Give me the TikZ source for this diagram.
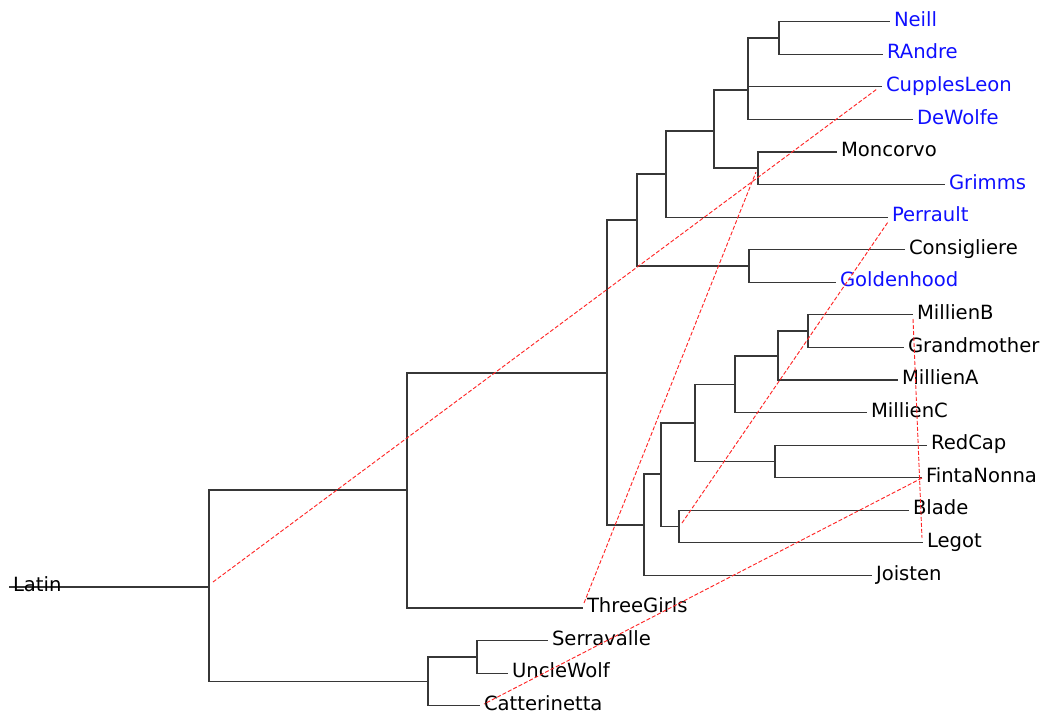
\documentclass[tikz,border=0pt]{standalone}
\usepackage{fontspec}
\setmainfont{DejaVu Sans}
\definecolor{lblue}{RGB}{15,15,255}
\definecolor{treegray}{RGB}{55,55,55}
\begin{document}
\begin{tikzpicture}[x=0.75pt,y=-0.75pt,
  tree/.style={draw=treegray,line width=0.8pt},
  lbl/.style={anchor=base west,inner sep=0pt,xshift=2.8pt,yshift=-3.5pt,font=\fontsize{14.7}{17}\selectfont},
  blu/.style={lbl,text=lblue},
  link/.style={draw=red!85,line width=0.7pt,dash pattern=on 3pt off 1.5pt}]
\useasboundingbox (0,0) rectangle (1050,718);
% leaf ends
\coordinate (nNeill) at (890,21.7);
\coordinate (nRAndre) at (883,54.3);
\coordinate (nCupplesLeon) at (882,86.8);
\coordinate (nDeWolfe) at (913,119.4);
\coordinate (nMoncorvo) at (837,152);
\coordinate (nGrimms) at (945,184.5);
\coordinate (nPerrault) at (888,217.1);
\coordinate (nConsigliere) at (905,249.7);
\coordinate (nGoldenhood) at (836,282.2);
\coordinate (nMillienB) at (913,314.8);
\coordinate (nGrandmother) at (904,347.4);
\coordinate (nMillienA) at (898,380);
\coordinate (nMillienC) at (867,412.5);
\coordinate (nRedCap) at (927,445.1);
\coordinate (nFintaNonna) at (922,477.7);
\coordinate (nBlade) at (909,510.2);
\coordinate (nLegot) at (923,542.8);
\coordinate (nJoisten) at (872,575.4);
\coordinate (nThreeGirls) at (583,608);
\coordinate (nSerravalle) at (548,640.5);
\coordinate (nUncleWolf) at (508,673.1);
\coordinate (nCatterinetta) at (480,705.7);
\coordinate (nLatin) at (9,587);
% internal nodes
\coordinate (A) at (779,38);
\coordinate (B) at (748,90);
\coordinate (C) at (758,168);
\coordinate (D) at (714,131);
\coordinate (E) at (666,174);
\coordinate (F) at (749,266);
\coordinate (G) at (637,220);
\coordinate (H) at (808,331);
\coordinate (I) at (778,356);
\coordinate (J) at (735,384.7);
\coordinate (K) at (775,461.5);
\coordinate (L) at (695,423);
\coordinate (M) at (679,526.5);
\coordinate (N) at (661,474);
\coordinate (O) at (644,525);
\coordinate (P) at (607,373);
\coordinate (Q) at (407,490);
\coordinate (R) at (477,657);
\coordinate (S) at (428,681.5);
\coordinate (root) at (209,587);
% tree
\draw[tree] (A) |- (nNeill) (A) |- (nRAndre);
\draw[tree] (B) |- (A) (B) |- (nCupplesLeon) (B) |- (nDeWolfe);
\draw[tree] (C) |- (nMoncorvo) (C) |- (nGrimms);
\draw[tree] (D) |- (B) (D) |- (C);
\draw[tree] (E) |- (D) (E) |- (nPerrault);
\draw[tree] (F) |- (nConsigliere) (F) |- (nGoldenhood);
\draw[tree] (G) |- (E) (G) |- (F);
\draw[tree] (H) |- (nMillienB) (H) |- (nGrandmother);
\draw[tree] (I) |- (H) (I) |- (nMillienA);
\draw[tree] (J) |- (I) (J) |- (nMillienC);
\draw[tree] (K) |- (nRedCap) (K) |- (nFintaNonna);
\draw[tree] (L) |- (J) (L) |- (K);
\draw[tree] (M) |- (nBlade) (M) |- (nLegot);
\draw[tree] (N) |- (L) (N) |- (M);
\draw[tree] (O) |- (N) (O) |- (nJoisten);
\draw[tree] (P) |- (G) (P) |- (O);
\draw[tree] (Q) |- (P) (Q) |- (nThreeGirls);
\draw[tree] (R) |- (nSerravalle) (R) |- (nUncleWolf);
\draw[tree] (S) |- (R) (S) |- (nCatterinetta);
\draw[tree] (root) |- (Q) (root) |- (S);
\draw[tree] (root) -- (nLatin);
% labels
\node[blu] (Neill) at (nNeill) {Neill};
\node[blu] (RAndre) at (nRAndre) {RAndre};
\node[blu] (CupplesLeon) at (nCupplesLeon) {CupplesLeon};
\node[blu] (DeWolfe) at (nDeWolfe) {DeWolfe};
\node[lbl] (Moncorvo) at (nMoncorvo) {Moncorvo};
\node[blu] (Grimms) at (nGrimms) {Grimms};
\node[blu] (Perrault) at (nPerrault) {Perrault};
\node[lbl] (Consigliere) at (nConsigliere) {Consigliere};
\node[blu] (Goldenhood) at (nGoldenhood) {Goldenhood};
\node[lbl] (MillienB) at (nMillienB) {MillienB};
\node[lbl] (Grandmother) at (nGrandmother) {Grandmother};
\node[lbl] (MillienA) at (nMillienA) {MillienA};
\node[lbl] (MillienC) at (nMillienC) {MillienC};
\node[lbl] (RedCap) at (nRedCap) {RedCap};
\node[lbl] (FintaNonna) at (nFintaNonna) {FintaNonna};
\node[lbl] (Blade) at (nBlade) {Blade};
\node[lbl] (Legot) at (nLegot) {Legot};
\node[lbl] (Joisten) at (nJoisten) {Joisten};
\node[lbl] (ThreeGirls) at (nThreeGirls) {ThreeGirls};
\node[lbl] (Serravalle) at (nSerravalle) {Serravalle};
\node[lbl] (UncleWolf) at (nUncleWolf) {UncleWolf};
\node[lbl] (Catterinetta) at (nCatterinetta) {Catterinetta};
\node[lbl] (Latin) at (nLatin) {Latin};
% reticulation links
\coordinate (r1a) at (213,582);   \coordinate (r1b) at (877,89);
\coordinate (r2a) at (584,603);   \coordinate (r2b) at (756,172);
\coordinate (r3a) at (682,523);   \coordinate (r3b) at (888,222);
\coordinate (r4a) at (913,319);   \coordinate (r4b) at (922,538);
\coordinate (r5a) at (922,478);   \coordinate (r5b) at (484,704);
\draw[link] (r1a) -- (r1b);
\draw[link] (r2a) -- (r2b);
\draw[link] (r3a) -- (r3b);
\draw[link] (r4a) -- (r4b);
\draw[link] (r5a) -- (r5b);
\end{tikzpicture}
\end{document}
